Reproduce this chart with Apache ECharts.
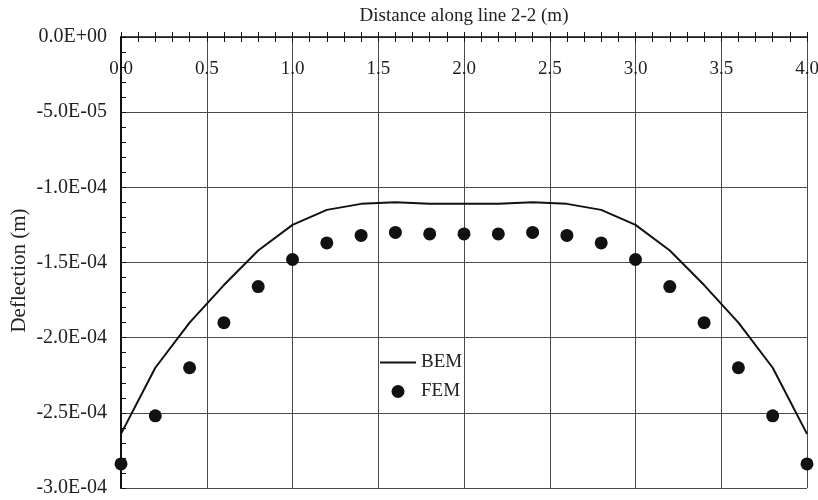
<!DOCTYPE html>
<html>
<head>
<meta charset="utf-8">
<script src="https://cdn.jsdelivr.net/npm/echarts@6/dist/echarts.min.js"></script>
<style>
  html, body { margin: 0; padding: 0; background: #fff; }
  #chart { width: 818px; height: 500px; }
</style>
</head>
<body>
<div id="chart"></div>
<script>
// Distance along line 2-2 (m)
const distance = [0, 0.2, 0.4, 0.6, 0.8, 1.0, 1.2, 1.4, 1.6, 1.8, 2.0,
                  2.2, 2.4, 2.6, 2.8, 3.0, 3.2, 3.4, 3.6, 3.8, 4.0];
// Deflection (m), boundary element solution
const bemDeflection = [-2.64e-4, -2.20e-4, -1.90e-4, -1.65e-4, -1.42e-4, -1.25e-4, -1.15e-4,
                       -1.11e-4, -1.10e-4, -1.11e-4, -1.11e-4, -1.11e-4, -1.10e-4, -1.11e-4,
                       -1.15e-4, -1.25e-4, -1.42e-4, -1.65e-4, -1.90e-4, -2.20e-4, -2.64e-4];
// Deflection (m), finite element solution
const femDeflection = [-2.84e-4, -2.52e-4, -2.20e-4, -1.90e-4, -1.66e-4, -1.48e-4, -1.37e-4,
                       -1.32e-4, -1.30e-4, -1.31e-4, -1.31e-4, -1.31e-4, -1.30e-4, -1.32e-4,
                       -1.37e-4, -1.48e-4, -1.66e-4, -1.90e-4, -2.20e-4, -2.52e-4, -2.84e-4];
// Tick labels
const xTickValues = [0, 0.5, 1.0, 1.5, 2.0, 2.5, 3.0, 3.5, 4.0];
const xTickLabels = ['0.0', '0.5', '1.0', '1.5', '2.0', '2.5', '3.0', '3.5', '4.0'];
const yTickValues = [0, -5e-5, -1e-4, -1.5e-4, -2e-4, -2.5e-4, -3e-4];
const yTickLabels = ['0.0E+00', '-5.0E-05', '-1.0E-04', '-1.5E-04', '-2.0E-04', '-2.5E-04', '-3.0E-04'];

function lookup(values, labels, v) {
  let best = 0;
  for (let i = 1; i < values.length; i++) {
    if (Math.abs(values[i] - v) < Math.abs(values[best] - v)) best = i;
  }
  return labels[best];
}

const FONT = 'Liberation Serif';
const TEXT = '#222';
const GRID = '#4a4a4a';
const INK = '#111';

const chart = echarts.init(document.getElementById('chart'), null, { renderer: 'canvas' });

chart.setOption({
  animation: false,
  backgroundColor: '#fff',
  textStyle: { fontFamily: FONT, color: TEXT },
  grid: { left: 121, right: 11, top: 37, bottom: 12, containLabel: false, outerBoundsMode: 'none' },
  legend: {
    orient: 'vertical',
    left: 380,
    top: 353,
    padding: 0,
    itemWidth: 36,
    itemHeight: 13,
    itemGap: 10,
    textStyle: { fontFamily: FONT, fontSize: 19, color: TEXT },
    data: [
      // plain line sample for the boundary element curve
      { name: 'BEM', icon: 'path://M0,0H36V2H0Z' },
      { name: 'FEM', icon: 'circle' }
    ]
  },
  xAxis: [
    {
      type: 'value',
      position: 'top',
      min: 0,
      max: 4,
      interval: 0.5,
      name: 'Distance along line 2-2 (m)',
      nameLocation: 'middle',
      nameGap: 11,
      nameMoveOverlap: false,
      nameTextStyle: { fontFamily: FONT, fontSize: 19, color: TEXT },
      axisLine: { onZero: false, lineStyle: { color: INK, width: 1.5 } },
      axisTick: { show: true, inside: false, length: 5, lineStyle: { color: INK, width: 1 } },
      minorTick: { show: true, splitNumber: 5, length: 5, lineStyle: { color: INK, width: 1 } },
      axisLabel: {
        inside: true,
        margin: 23,
        fontFamily: FONT,
        fontSize: 19,
        color: TEXT,
        showMinLabel: true,
        showMaxLabel: true,
        formatter: v => lookup(xTickValues, xTickLabels, v)
      },
      splitLine: { show: true, lineStyle: { color: GRID, width: 1 } }
    },
    {
      // inward half of the crossing ticks along the top axis
      type: 'value',
      position: 'top',
      min: 0,
      max: 4,
      interval: 0.5,
      axisLine: { show: false, onZero: false },
      axisTick: { show: true, inside: true, length: 5, lineStyle: { color: INK, width: 1 } },
      minorTick: { show: true, splitNumber: 5, length: 5, lineStyle: { color: INK, width: 1 } },
      axisLabel: { show: false },
      splitLine: { show: false }
    }
  ],
  yAxis: {
    type: 'value',
    min: -3e-4,
    max: 0,
    interval: 5e-5,
    name: 'Deflection (m)',
    nameLocation: 'middle',
    nameRotate: 90,
    nameGap: 91,
    nameMoveOverlap: false,
    nameTextStyle: { fontFamily: FONT, fontSize: 21, color: TEXT, padding: [0, 16, 0, 0] },
    axisLine: { show: true, onZero: false, lineStyle: { color: INK, width: 2 } },
    axisTick: { show: true, inside: true, length: 5, lineStyle: { color: INK, width: 1 } },
    minorTick: { show: true, splitNumber: 5, length: 5, lineStyle: { color: INK, width: 1 } },
    axisLabel: {
      margin: 14,
      fontFamily: FONT,
      fontSize: 20,
      color: TEXT,
      formatter: v => lookup(yTickValues, yTickLabels, v)
    },
    splitLine: { show: true, lineStyle: { color: GRID, width: 1 } }
  },
  series: [
    {
      name: 'BEM',
      type: 'line',
      xAxisIndex: 0,
      data: distance.map((d, i) => [d, bemDeflection[i]]),
      symbol: 'none',
      showSymbol: false,
      lineStyle: { color: INK, width: 2 },
      itemStyle: { color: INK },
      clip: false,
      z: 3
    },
    {
      name: 'FEM',
      type: 'scatter',
      xAxisIndex: 0,
      data: distance.map((d, i) => [d, femDeflection[i]]),
      symbol: 'circle',
      symbolSize: 13,
      itemStyle: { color: INK, opacity: 1 },
      clip: false,
      z: 4
    }
  ]
});
</script>
</body>
</html>
